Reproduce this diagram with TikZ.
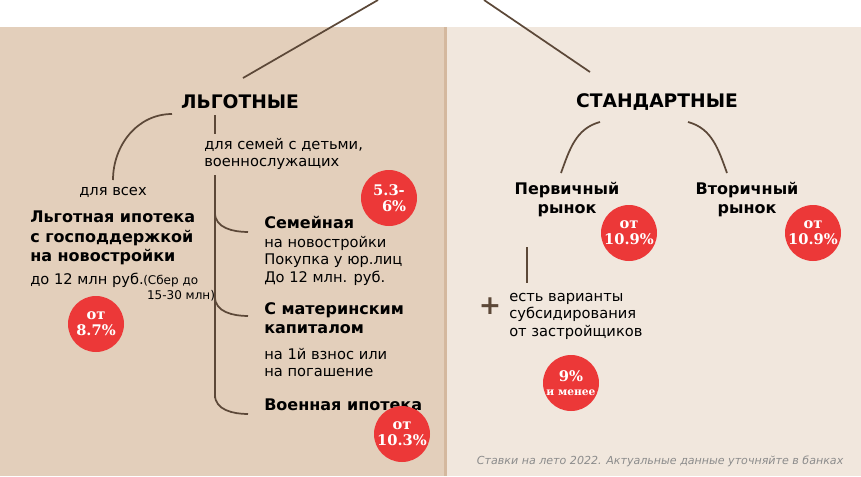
\documentclass[tikz,border=0pt]{standalone}
\usepackage{fontspec}
\setmainfont{DejaVu Sans}
\newfontfamily\ratefont{DejaVu Serif}
\usetikzlibrary{positioning}
\definecolor{leftBg}{RGB}{227,207,187}
\definecolor{rightBg}{RGB}{241,231,221}
\definecolor{edgeColor}{RGB}{212,184,158}
\definecolor{lineColor}{RGB}{92,72,56}
\definecolor{rateColor}{RGB}{236,56,56}
\definecolor{noteColor}{RGB}{140,140,140}
\tikzset{
  head/.style={font=\bfseries\fontsize{14}{16}\selectfont},
  title/.style={font=\bfseries\fontsize{12}{14.3}\selectfont, align=left, anchor=north west, inner sep=0pt},
  plain/.style={font=\fontsize{11}{13}\selectfont, align=left, anchor=north west, inner sep=0pt},
  rate/.style={circle, fill=rateColor, text=white, minimum size=42pt, inner sep=0pt, align=center,
    font=\ratefont\bfseries\fontsize{11}{12}\selectfont},
  link/.style={draw=lineColor, line width=1.3pt},
}
\begin{document}
\begin{tikzpicture}[x=0.75pt,y=-0.75pt]
\useasboundingbox (0,0) rectangle (861,476);
% panels
\fill[leftBg] (0,27) rectangle (445,476);
\fill[rightBg] (445,27) rectangle (861,476);
\fill[edgeColor] (444,27) rectangle (447,476);
% top branch
\coordinate (topL) at (378,0);
\coordinate (topR) at (484,0);
\coordinate (footL) at (243,78);
\coordinate (footR) at (590,72);
\draw[link] (topL) -- (footL);
\draw[link] (topR) -- (footR);

\node[head] (lgot) at (240,102) {ЛЬГОТНЫЕ};
\node[head] (stand) at (657,102) {СТАНДАРТНЫЕ};

% left side
\coordinate (arcA) at (172,114);
\coordinate (arcB) at (113,180);
\draw[link] (arcA) to[out=180,in=90] (arcB);
\coordinate (tickA) at (215,115);
\coordinate (tickB) at (215,134);
\draw[link] (tickA) -- (tickB);
\node[plain] (family) at (204,138) {для семей с детьми,\\военнослужащих};
\node[plain, anchor=center] (forAll) at (113,192) {для всех};
\node[title] (benefit) at (30,211) {Льготная ипотека\\с господдержкой\\на новостройки};
\node[plain] (limit) at (30,273) {до 12 млн руб.};
\node[plain, font=\fontsize{9}{11}\selectfont] (sber) at (143,275) {(Сбер до\\\ 15-30 млн)};
\node[rate] (rBenefit) at (96,324) {от\\8.7\%};

\coordinate (trunkA) at (215,175);
\coordinate (trunkB) at (215,398);
\draw[link] (trunkA) -- (trunkB);
\node[title] (famTitle) at (264,216) {Семейная};
\node[plain] (famText) at (264,236) {на новостройки\\Покупка у юр.лиц\\До 12 млн. руб.};
\node[title] (matTitle) at (264,302) {С материнским\\капиталом};
\node[plain] (matText) at (264,348) {на 1й взнос или\\на погашение};
\node[title] (milTitle) at (264,399) {Военная ипотека};
\foreach \y/\n in {232/famB, 316/matB, 414/milB}{
  \coordinate (\n) at (248,\y);
  \draw[link] (215,\y-19) to[out=-90,in=180] (\n);
}
\node[rate] (rFam) at (389,198) {5.3-\\\ \ 6\%};
\node[rate] (rMil) at (402,434) {от\\10.3\%};

% right side
\coordinate (arcC) at (600,122);
\coordinate (arcD) at (561,173);
\coordinate (arcE) at (688,122);
\coordinate (arcF) at (727,173);
\draw[link] (arcC) to[out=195,in=70] (arcD);
\draw[link] (arcE) to[out=-15,in=110] (arcF);
\node[head, font=\bfseries\fontsize{12}{14.3}\selectfont, align=center] (primary) at (567,200) {Первичный\\рынок};
\node[head, font=\bfseries\fontsize{12}{14.3}\selectfont, align=center] (second) at (747,200) {Вторичный\\рынок};
\node[rate] (rPrim) at (629,233) {от\\10.9\%};
\node[rate] (rSec) at (813,233) {от\\10.9\%};
\coordinate (stemA) at (527,247);
\coordinate (stemB) at (527,283);
\draw[link] (stemA) -- (stemB);
\node[font=\bfseries\fontsize{20}{20}\selectfont, text=lineColor] (plus) at (490,306) {+};
\node[plain] (subsid) at (509,293) {есть варианты\\субсидирования\\от застройщиков};
\node[rate, font=\ratefont\bfseries\fontsize{11}{10}\selectfont] (rSub) at (571,383) {9\%\\{\fontsize{8}{10}\selectfont и менее}};
\node[font=\itshape\fontsize{8.3}{10}\selectfont, text=noteColor, anchor=east] (note) at (848,461) {Ставки на лето 2022. Актуальные данные уточняйте в банках};
\end{tikzpicture}
\end{document}
